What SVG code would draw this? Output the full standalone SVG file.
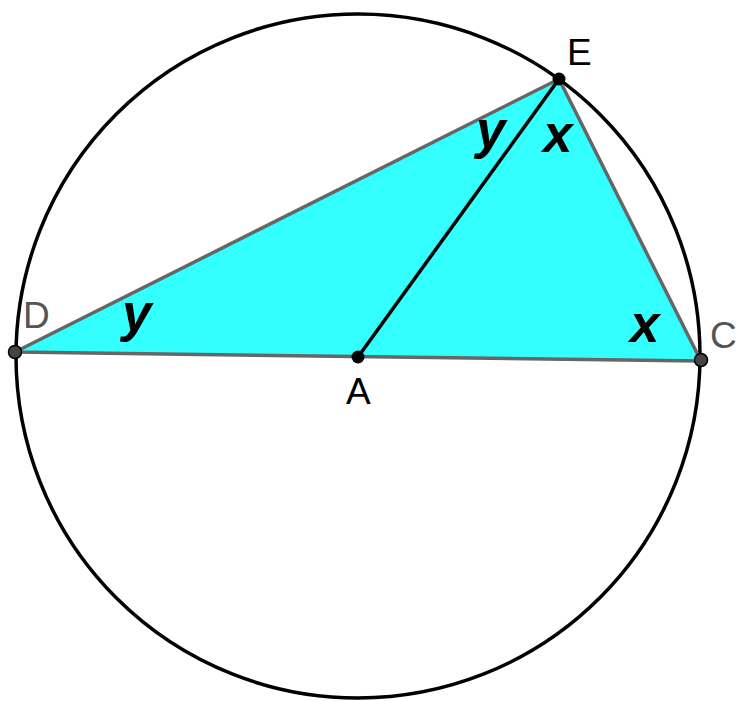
<svg xmlns="http://www.w3.org/2000/svg" width="738" height="701" viewBox="0 0 738 701">
<style>
.lbl{font-family:"Liberation Sans",Arial,sans-serif;font-size:37px}
.var{font-family:"Liberation Sans",Arial,sans-serif;font-size:53px;font-weight:bold;font-style:italic;fill:#000}
</style>
<rect width="738" height="701" fill="#fff"/>
<g id="circle"><circle cx="358" cy="356" r="342" fill="none" stroke="#000" stroke-width="3.5"/></g>
<g id="triangle"><polygon points="15,352 559,79 701,361" fill="#33FFFF" stroke="#666" stroke-width="3.5" stroke-linejoin="round"/></g>
<g id="connectors"><line x1="358" y1="357" x2="559" y2="79" stroke="#000" stroke-width="3.5"/></g>
<g id="D"><circle cx="15" cy="352" r="6.5" fill="#444" stroke="#000" stroke-width="1.5"/><text class="lbl" x="23" y="328" fill="#555">D</text></g>
<g id="A"><circle cx="358" cy="357" r="6.5" fill="#000"/><text class="lbl" x="346" y="404" fill="#000">A</text></g>
<g id="C"><circle cx="701" cy="360" r="6.5" fill="#444" stroke="#000" stroke-width="1.5"/><text class="lbl" x="710" y="348" fill="#555">C</text></g>
<g id="E"><circle cx="559" cy="79" r="6.5" fill="#000"/><text class="lbl" x="567" y="65" fill="#000">E</text></g>
<text class="var" x="122" y="331">y</text>
<text class="var" x="476" y="148">y</text>
<text class="var" x="543" y="152">x</text>
<text class="var" x="630" y="342">x</text>
</svg>
